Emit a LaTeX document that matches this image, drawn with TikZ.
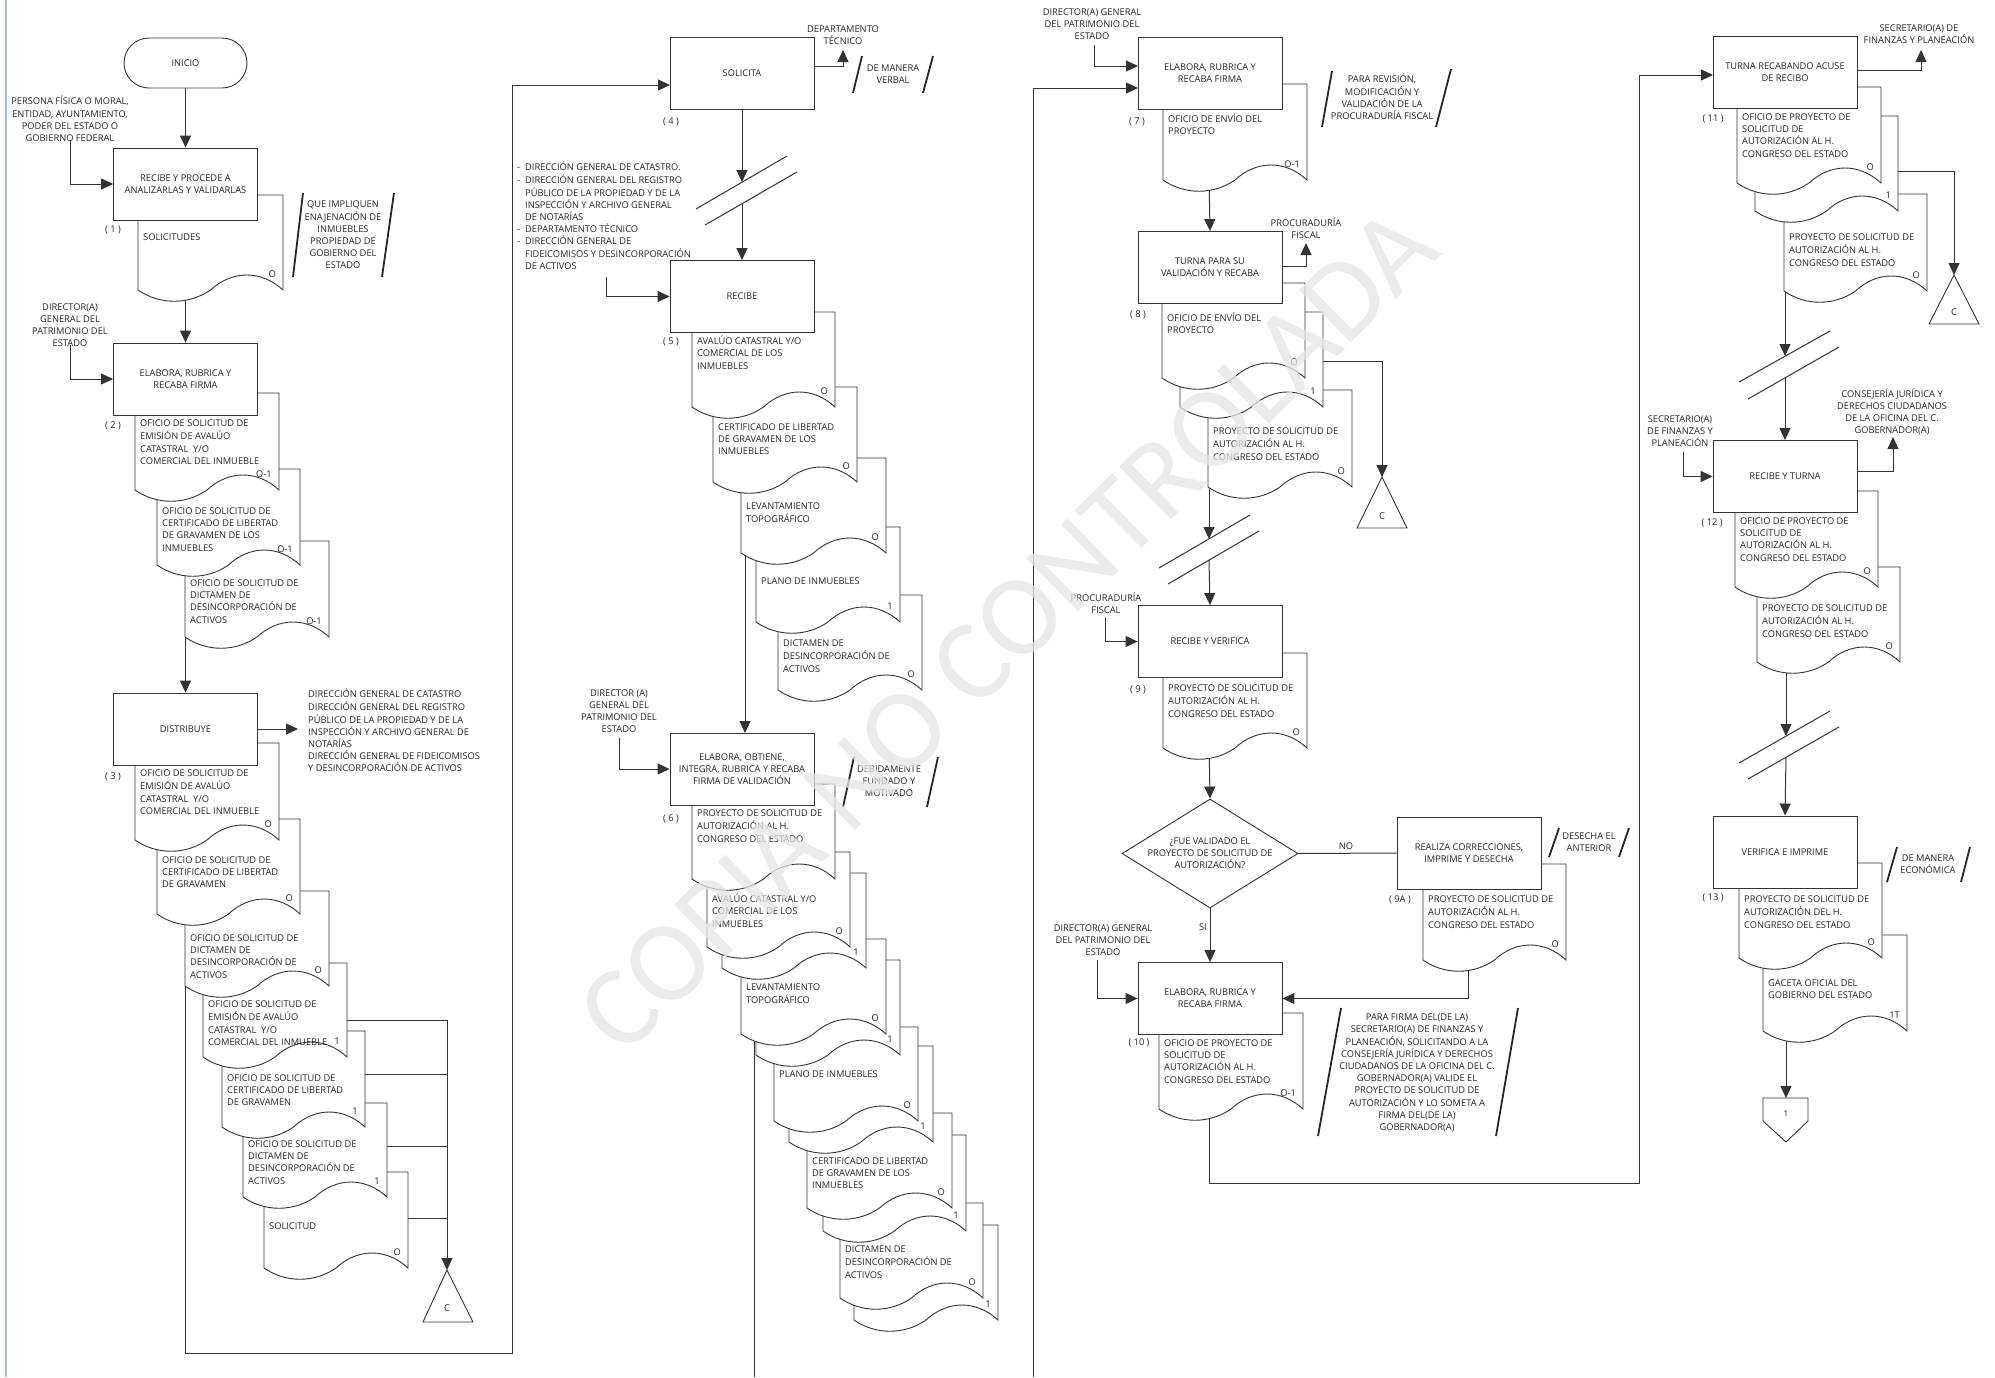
\documentclass[tikz,border=0pt]{standalone}
\usepackage{fontspec}
\setmainfont{Open Sans}
\newfontfamily\wmfont{Carlito}
\usetikzlibrary{arrows.meta,shapes.geometric}
\pgfdeclarelayer{bg}
\pgfsetlayers{bg,main}
\definecolor{edgeblue}{RGB}{168,190,224}
\newcommand\tf{\fontsize{9.3}{12.2}\selectfont}
\tikzset{
  box/.style={draw=black!80, fill=white, line width=0.9pt, minimum width=144pt, minimum height=72pt, inner sep=2pt, align=center, font=\tf, text=black!85},
  docline/.style={draw=black!80, fill=white, line width=0.9pt},
  dtxt/.style={inner sep=0pt, align=left, font=\tf, text=black!85},
  ctxt/.style={inner sep=0pt, align=center, font=\tf, text=black!85},
  con/.style={draw=black!80, line width=1pt},
  arr/.style={con, -{Triangle[length=12pt,width=11pt]}},
  slash/.style={draw=black!85, line width=1.8pt},
}
\newcommand\wdoc[7]{%
  \draw[docline] (#1,#2) -- (#3,#2) -- (#3,#4)
    .. controls ({#3-0.15*(#3-#1)},{#4-20}) and ({#3-0.35*(#3-#1)},{#4-20}) .. ({(#1+#3)/2},#4)
    .. controls ({#1+0.35*(#3-#1)},{#4+15}) and ({#1+0.15*(#3-#1)},{#4+15}) .. (#1,#4) -- cycle;
  \node[dtxt,anchor=north west] at ({#1+5},{#5-5.2}) {\strut #6};
  \node[dtxt,anchor=east] at ({#3-7},{#4-16}) {#7};
}
\newcommand\dsh{\makebox[8pt][l]{-}}
\newcommand\ind{\hspace*{8pt}}
\begin{document}
\begin{tikzpicture}[x=1pt,y=-1pt]
\useasboundingbox (0,0) rectangle (1995,1377);
\draw[edgeblue, line width=2pt] (6,0) -- (6,1377);

% ================= COLUMN 1 =================
\node[box, rounded corners=25pt, minimum width=123pt, minimum height=50pt] (b0) at (185.5,63) {INICIO};
\node[ctxt] (in1) at (70,119) {PERSONA FÍSICA O MORAL,\\ENTIDAD, AYUNTAMIENTO,\\PODER DEL ESTADO O\\GOBIERNO FEDERAL};
\wdoc{138}{195}{283}{290}{237}{SOLICITUDES}{O}
\node[box] (b1) at (185.5,184) {RECIBE Y PROCEDE A\\ANALIZARLAS Y VALIDARLAS};
\node[ctxt] at (113,230) {( 1 )};
\node[ctxt] (a1) at (343,235) {QUE IMPLIQUEN\\ENAJENACIÓN DE\\INMUEBLES\\PROPIEDAD DE\\GOBIERNO DEL\\ESTADO};
\draw[slash] (293,277) -- (303,193);
\draw[slash] (382,277) -- (394,193);

\node[ctxt] (in2) at (70,325) {DIRECTOR(A)\\GENERAL DEL\\PATRIMONIO DEL\\ESTADO};
\wdoc{185}{541}{329}{637}{583}{OFICIO DE SOLICITUD DE\\DICTAMEN DE\\DESINCORPORACIÓN DE\\ACTIVOS}{O-1}
\wdoc{157}{469}{300}{565}{511}{OFICIO DE SOLICITUD DE\\CERTIFICADO DE LIBERTAD\\DE GRAVAMEN DE LOS\\INMUEBLES}{O-1}
\wdoc{135}{393}{279}{490}{423}{OFICIO DE SOLICITUD DE\\EMISIÓN DE AVALÚO\\CATASTRAL\ \ Y/O\\COMERCIAL DEL INMUEBLE}{O-1}
\node[box] (b2) at (185.5,379) {ELABORA, RUBRICA Y\\RECABA FIRMA};
\node[ctxt] at (113,426) {( 2 )};

\wdoc{264}{1172}{408}{1268}{1226}{SOLICITUD}{O}
\wdoc{243}{1103}{387}{1197}{1144}{OFICIO DE SOLICITUD DE\\DICTAMEN DE\\DESINCORPORACIÓN DE\\ACTIVOS}{1}
\wdoc{222}{1031}{365}{1127}{1078}{OFICIO DE SOLICITUD DE\\CERTIFICADO DE LIBERTAD\\DE GRAVAMEN}{1}
\wdoc{203}{963}{347}{1057}{1004}{OFICIO DE SOLICITUD DE\\EMISIÓN DE AVALÚO\\CATASTRAL\ \ Y/O\\COMERCIAL DEL INMUEBLE}{1}
\wdoc{185}{891}{329}{986}{938}{OFICIO DE SOLICITUD DE\\DICTAMEN DE\\DESINCORPORACIÓN DE\\ACTIVOS}{O}
\wdoc{157}{819}{300}{914}{860}{OFICIO DE SOLICITUD DE\\CERTIFICADO DE LIBERTAD\\DE GRAVAMEN}{O}
\wdoc{135}{743}{279}{840}{773}{OFICIO DE SOLICITUD DE\\EMISIÓN DE AVALÚO\\CATASTRAL\ \ Y/O\\COMERCIAL DEL INMUEBLE}{O}
\node[box] (b3) at (185.5,729) {DISTRIBUYE};
\node[ctxt] at (113,777) {( 3 )};
\node[dtxt, anchor=north west] (out3) at (308,688.8) {\strut DIRECCIÓN GENERAL DE CATASTRO\\DIRECCIÓN GENERAL DEL REGISTRO\\PÚBLICO DE LA PROPIEDAD Y DE LA\\INSPECCIÓN Y ARCHIVO GENERAL DE\\NOTARÍAS\\DIRECCIÓN GENERAL DE FIDEICOMISOS\\Y DESINCORPORACIÓN DE ACTIVOS};

\draw[docline] (447,1270) -- (473,1322) -- (423,1322) -- cycle;
\coordinate (c1) at (447,1270);
\node[ctxt] at (447,1308) {C};

% ================= COLUMN 2 =================
\node[box] (b4) at (742,73.5) {SOLICITA};
\node[ctxt] at (671,122) {( 4 )};
\node[ctxt] (o4) at (843,35) {DEPARTAMENTO\\TÉCNICO};
\node[ctxt] at (893,74) {DE MANERA\\VERBAL};
\draw[slash] (853,93) -- (862,56);
\draw[slash] (923,93) -- (933,56);

\node[dtxt, anchor=north west] (in5) at (517,161.8) {\strut\dsh DIRECCIÓN GENERAL DE CATASTRO.\\\dsh DIRECCIÓN GENERAL DEL REGISTRO\\\ind PÚBLICO DE LA PROPIEDAD Y DE LA\\\ind INSPECCIÓN Y ARCHIVO GENERAL\\\ind DE NOTARÍAS\\\dsh DEPARTAMENTO TÉCNICO\\\dsh DIRECCIÓN GENERAL DE\\\ind FIDEICOMISOS Y DESINCORPORACIÓN\\\ind DE ACTIVOS};

\wdoc{778}{595}{922}{690}{643}{DICTAMEN DE\\DESINCORPORACIÓN DE\\ACTIVOS}{O}
\wdoc{756}{527}{900}{622}{581}{PLANO DE INMUEBLES}{1}
\wdoc{741}{458}{886}{553}{506}{LEVANTAMIENTO\\TOPOGRÁFICO}{O}
\wdoc{713}{387}{857}{482}{427}{CERTIFICADO DE LIBERTAD\\DE GRAVAMEN DE LOS\\INMUEBLES}{O}
\wdoc{692}{312}{835}{407}{341}{AVALÚO CATASTRAL Y/O\\COMERCIAL DE LOS\\INMUEBLES}{O}
\node[box] (b5) at (742,296.5) {RECIBE};
\node[ctxt] at (671,342) {( 5 )};

\node[ctxt] (in6) at (619,711) {DIRECTOR (A)\\GENERAL DEL\\PATRIMONIO DEL\\ESTADO};
\wdoc{854}{1225}{998}{1320}{1300}{}{1}
\wdoc{840}{1203}{983}{1298}{1249}{DICTAMEN DE\\DESINCORPORACIÓN DE\\ACTIVOS}{O}
\wdoc{823}{1135}{966}{1231}{1200}{}{1}
\wdoc{807}{1113}{952}{1208}{1161}{CERTIFICADO DE LIBERTAD\\DE GRAVAMEN DE LOS\\INMUEBLES}{O}
\wdoc{789}{1046}{933}{1142}{1100}{}{1}
\wdoc{774}{1027}{918}{1121}{1074}{PLANO DE INMUEBLES}{O}
\wdoc{756}{960}{900}{1055}{1020}{}{1}
\wdoc{741}{939}{886}{1034}{987}{LEVANTAMIENTO\\TOPOGRÁFICO}{O}
\wdoc{722}{873}{866}{968}{930}{}{1}
\wdoc{707}{852}{850}{947}{899}{AVALÚO CATASTRAL Y/O\\COMERCIAL DE LOS\\INMUEBLES}{O}
\wdoc{692}{784}{835}{879}{813}{PROYECTO DE SOLICITUD DE\\AUTORIZACIÓN AL H.\\CONGRESO DEL ESTADO}{}
\node[box] (b6) at (742,769) {ELABORA, OBTIENE,\\INTEGRA, RUBRICA Y RECABA\\FIRMA DE VALIDACIÓN};
\node[ctxt] at (671,819) {( 6 )};
\node[ctxt] at (889,781) {DEBIDAMENTE\\FUNDADO Y\\MOTIVADO};
\draw[slash] (843,807) -- (854,757);
\draw[slash] (927,807) -- (938,757);

% ================= COLUMN 3 =================
\node[ctxt] (in7) at (1092,24) {DIRECTOR(A) GENERAL\\DEL PATRIMONIO DEL\\ESTADO};
\wdoc{1163}{84}{1307}{180}{119}{OFICIO DE ENVÍO DEL\\PROYECTO}{O-1}
\node[box] (b7) at (1210,73.5) {ELABORA, RUBRICA Y\\RECABA FIRMA};
\node[ctxt] at (1137,122) {( 7 )};
\node[ctxt] at (1382,97) {PARA REVISIÓN,\\MODIFICACIÓN Y\\VALIDACIÓN DE LA\\PROCURADURÍA FISCAL};
\draw[slash] (1322,127) -- (1332,71);
\draw[slash] (1436,127) -- (1451,69);

\node[ctxt] (o8) at (1306,228) {PROCURADURÍA\\FISCAL};
\wdoc{1208}{390}{1352}{487}{431}{PROYECTO DE SOLICITUD DE\\AUTORIZACIÓN AL H.\\CONGRESO DEL ESTADO}{O}
\wdoc{1180}{312}{1323}{407}{360}{}{1}
\wdoc{1162}{283}{1305}{378}{318}{OFICIO DE ENVÍO DEL\\PROYECTO}{O}
\node[box] (b8) at (1210,267.5) {TURNA PARA SU\\VALIDACIÓN Y RECABA};
\node[ctxt] at (1138,315) {( 8 )};

\draw[docline] (1382,477) -- (1407,528) -- (1357,528) -- cycle;
\coordinate (c2) at (1382,477);
\node[ctxt] at (1382,516) {C};

\node[ctxt] (in9) at (1106,603) {PROCURADURÍA\\FISCAL};
\wdoc{1163}{653}{1307}{748}{688}{PROYECTO DE SOLICITUD DE\\AUTORIZACIÓN AL H.\\CONGRESO DEL ESTADO}{O}
\node[box] (b9) at (1210,641.5) {RECIBE Y VERIFICA};
\node[ctxt] at (1138,690) {( 9 )};

\node[draw=black!80, fill=white, line width=0.9pt, diamond, minimum width=176pt, minimum height=109pt, inner sep=0pt] (d9) at (1210,853.5) {};
\node[ctxt] at (1210,853) {¿FUE VALIDADO EL\\PROYECTO DE SOLICITUD DE\\AUTORIZACIÓN?};
\node[ctxt] at (1346,846) {NO};

\wdoc{1423}{864}{1566}{960}{899}{PROYECTO DE SOLICITUD DE\\AUTORIZACIÓN AL H.\\CONGRESO DEL ESTADO}{O}
\node[box] (b9a) at (1469,853) {REALIZA CORRECCIONES,\\IMPRIME Y DESECHA};
\node[ctxt] at (1400,900) {( 9A )};
\node[ctxt] at (1589,842) {DESECHA EL\\ANTERIOR};
\draw[slash] (1549,857) -- (1559,828);
\draw[slash] (1619,857) -- (1629,828);

\node[ctxt, anchor=east] at (1207,927) {SI};
\node[ctxt] (in10) at (1103,940) {DIRECTOR(A) GENERAL\\DEL PATRIMONIO DEL\\ESTADO};
\wdoc{1159}{1013}{1303}{1109}{1043}{OFICIO DE PROYECTO DE\\SOLICITUD DE\\AUTORIZACIÓN AL H.\\CONGRESO DEL ESTADO}{O-1}
\node[box] (b10) at (1210,998.5) {ELABORA, RUBRICA Y\\RECABA FIRMA};
\node[ctxt] at (1139,1043) {( 10 )};
\node[ctxt] at (1417,1073) {PARA FIRMA DEL(DE LA)\\SECRETARIO(A) DE FINANZAS Y\\PLANEACIÓN, SOLICITANDO A LA\\CONSEJERÍA JURÍDICA Y DERECHOS\\CIUDADANOS DE LA OFICINA DEL C.\\GOBERNADOR(A) VALIDE EL\\PROYECTO DE SOLICITUD DE\\AUTORIZACIÓN Y LO SOMETA A\\FIRMA DEL(DE LA)\\GOBERNADOR(A)};
\draw[slash] (1318,1136) -- (1341,1008);
\draw[slash] (1496,1136) -- (1518,1008);

% ================= COLUMN 4 =================
\node[ctxt] (o11) at (1919,34) {SECRETARIO(A) DE\\FINANZAS Y PLANEACIÓN};
\wdoc{1784}{194}{1927}{291}{237}{PROYECTO DE SOLICITUD DE\\AUTORIZACIÓN AL H.\\CONGRESO DEL ESTADO}{O}
\wdoc{1755}{116}{1898}{211}{170}{}{1}
\wdoc{1737}{87}{1881}{183}{117}{OFICIO DE PROYECTO DE\\SOLICITUD DE\\AUTORIZACIÓN AL H.\\CONGRESO DEL ESTADO}{O}
\node[box] (b11) at (1785,72.5) {TURNA RECABANDO ACUSE\\DE RECIBO};
\node[ctxt] at (1713,119) {( 11 )};

\draw[docline] (1954,275) -- (1979,324) -- (1929,324) -- cycle;
\coordinate (c3) at (1954,275);
\node[ctxt] at (1954,312) {C};

\node[ctxt] (in12) at (1680,431) {SECRETARIO(A)\\DE FINANZAS Y\\PLANEACIÓN};
\node[ctxt] (o12) at (1892,412) {CONSEJERÍA JURÍDICA Y\\DERECHOS CIUDADANOS\\DE LA OFICINA DEL C.\\GOBERNADOR(A)};
\wdoc{1757}{567}{1900}{662}{608}{PROYECTO DE SOLICITUD DE\\AUTORIZACIÓN AL H.\\CONGRESO DEL ESTADO}{O}
\wdoc{1735}{491}{1878}{587}{521}{OFICIO DE PROYECTO DE\\SOLICITUD DE\\AUTORIZACIÓN AL H.\\CONGRESO DEL ESTADO}{O}
\node[box] (b12) at (1785,476.5) {RECIBE Y TURNA};
\node[ctxt] at (1712,523) {( 12 )};

\wdoc{1763}{935}{1907}{1031}{983}{GACETA OFICIAL DEL\\GOBIERNO DEL ESTADO}{1T}
\wdoc{1739}{863}{1882}{958}{899}{PROYECTO DE SOLICITUD DE\\AUTORIZACIÓN DEL H.\\CONGRESO DEL ESTADO}{O}
\node[box] (b13) at (1785,852) {VERIFICA E IMPRIME};
\node[ctxt] at (1713,898) {( 13 )};
\node[ctxt] at (1928,864) {DE MANERA\\ECONÓMICA};
\draw[slash] (1887,882) -- (1897,847);
\draw[slash] (1961,882) -- (1970,847);

\draw[docline] (1763,1098) -- (1808,1098) -- (1808,1121) -- (1786,1142) -- (1763,1121) -- cycle;
\coordinate (p1) at (1786,1098);
\node[ctxt, font=\fontsize{8}{9}\selectfont] at (1786,1114) {1};

% ================= CONNECTORS (under the shapes) =================
\begin{pgfonlayer}{bg}
\fill[white] (0,0) rectangle (1995,1377);
\draw[arr] (b0.south) -- (b1.north);
\draw[arr] (70,140) |- (b1.west);
\draw[arr] (185.5,290) -- (b2.north);
\draw[arr] (70,345) |- (b2.west);
\draw[arr] (185.5,560) -- (b3.north);
\draw[arr] (b3.east) -- (298,729);
\draw[arr] (185.5,980) |- (512,1353) |- (670,85);
\draw[con] (347,1020) -- (447,1020);
\draw[con] (365,1074) -- (447,1074);
\draw[con] (387,1146) -- (447,1146);
\draw[con] (408,1218) -- (447,1218);
\draw[arr] (447,1020) -- (c1);

\draw[arr] (814,66) -| (843,50);
\draw[arr] (b4.south) -- (742,182);
\draw[con] (696,209) -- (787,156);
\draw[con] (705,225) -- (797,172);
\draw[arr] (742,204) -- (b5.north);
\draw[arr] (606,277) |- (b5.west);
\draw[arr] (745,540) -- (745,733);
\draw[arr] (619,738) |- (b6.west);
\draw[con] (754,1030) -- (754,1377);

\draw[arr] (1033,1377) |- (1138,88);
\draw[arr] (1094,45) |- (1138,66);
\draw[arr] (1209,175) -- (b8.north);
\draw[arr] (1282,266) -| (1306,243);
\draw[arr] (1323,361) -| (c2);
\draw[arr] (1209,480) -- (1209,539);
\draw[con] (1159,568) -- (1250,515);
\draw[con] (1168,584) -- (1259,531);
\draw[arr] (1209,560) -- (b9.north);
\draw[arr] (1105,618) |- (b9.west);
\draw[arr] (1209,740) -- (d9.north);
\draw[con] (d9.east) -- (b9a.west);
\draw[arr] (1468,965) |- (b10.east);
\draw[arr] (d9.south) -- (b10.north);
\draw[arr] (1097,960) |- (b10.west);
\draw[arr] (1209,1105) |- (1639,1183) |- (1713,75);

\draw[arr] (1857,70) -| (1921,50);
\draw[arr] (1898,171) -| (c3);
\draw[arr] (1785,285) -- (1785,356);
\draw[con] (1739,382) -- (1830,331);
\draw[con] (1748,399) -- (1839,347);
\draw[arr] (1785,378) -- (b12.north);
\draw[arr] (1683,452) |- (b12.west);
\draw[arr] (1857,471) -| (1893,437);
\draw[arr] (1786,660) -- (1786,736);
\draw[con] (1739,763) -- (1830,711);
\draw[con] (1748,779) -- (1839,727);
\draw[arr] (1786,757) -- (b13.north);
\draw[arr] (1786,1035) -- (p1);
\end{pgfonlayer}

% ================= WATERMARK =================
\node[rotate=44.5, text=black!10, opacity=0.75, inner sep=0pt, font={\wmfont\fontsize{115}{115}\selectfont}] (wm) at (1007,630) {COPIA NO CONTROLADA};
\end{tikzpicture}
\end{document}
